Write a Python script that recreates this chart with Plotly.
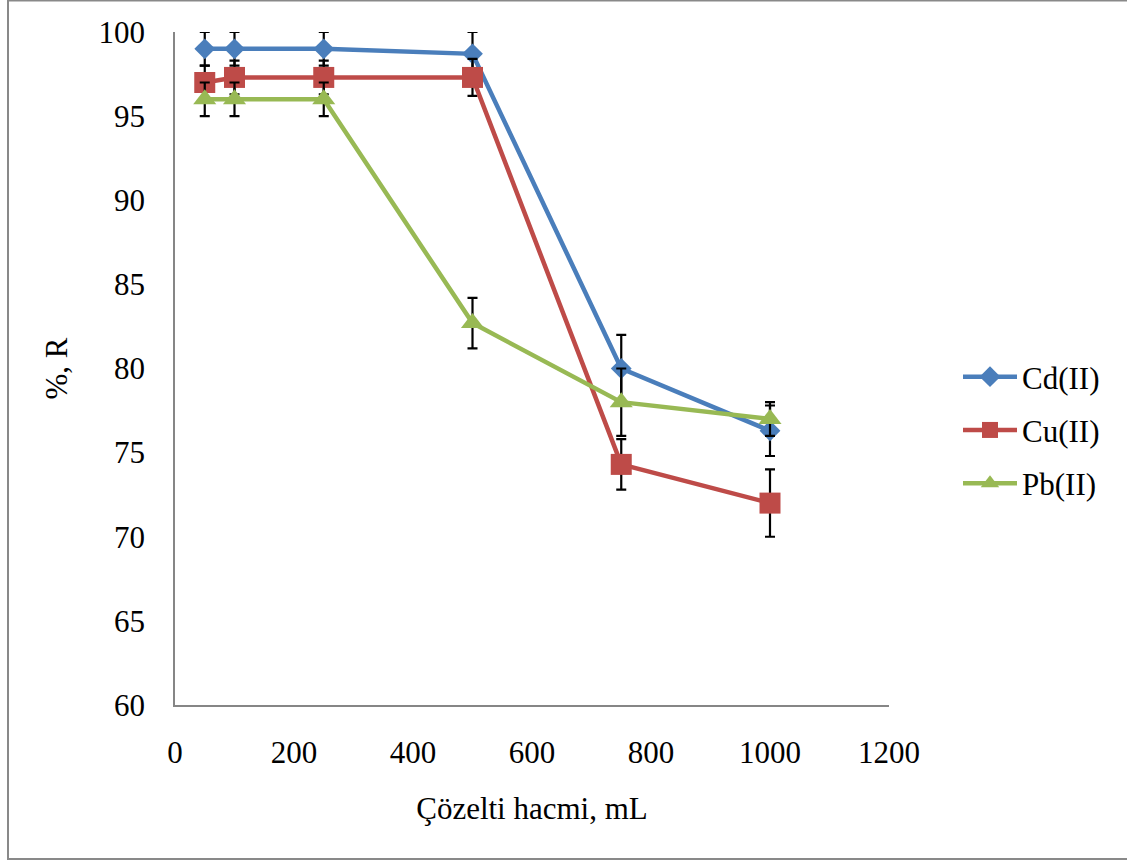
import plotly.graph_objects as go

volume = [50, 100, 250, 500, 750, 1000]
cd = [99.0, 99.0, 99.0, 98.7, 80.0, 76.3]
cd_err = [1.0, 1.0, 1.0, 1.3, 2.0, 1.5]
cu = [97.0, 97.3, 97.3, 97.3, 74.3, 72.0]
cu_err = [1.0, 1.0, 1.0, 1.1, 1.5, 2.0]
pb = [96.0, 96.0, 96.0, 82.7, 78.0, 77.0]
pb_err = [1.0, 1.0, 1.0, 1.5, 2.0, 1.0]

series = [
    ("Cd(II)", cd, cd_err, "#4A7EBB", "diamond", 16),
    ("Cu(II)", cu, cu_err, "#BE4B48", "square", 21),
    ("Pb(II)", pb, pb_err, "#98B954", "triangle-up", 20),
]

FONT = "'Times New Roman', 'Liberation Serif', serif"
FS = 31
W, H = 1127, 861
L, R, T, B = 175, 889, 32, 705

fig = go.Figure()
for i, (name, ys, err, col, sym, sz) in enumerate(series):
    fig.add_trace(go.Scatter(
        x=volume, y=ys, name=name, mode="lines+markers",
        legendgroup=f"g{i}",
        line=dict(color=col, width=4.5),
        marker=dict(symbol=sym, size=sz, color=col, line=dict(width=0)),
        error_y=dict(type="data", array=err, visible=True,
                     color="black", thickness=2.2, width=5),
    ))

def px_x(p):
    return (p - L) / (R - L)

def px_y(p):
    return (B - p) / (B - T)

fig.add_shape(type="rect", xref="paper", yref="paper",
              x0=px_x(8), x1=px_x(1135), y0=px_y(859), y1=px_y(0.5),
              line=dict(color="#898989", width=2), fillcolor="rgba(0,0,0,0)",
              layer="below")

fig.update_layout(
    width=W, height=H,
    margin=dict(l=L, r=W - R, t=T, b=H - B, pad=0),
    paper_bgcolor="white", plot_bgcolor="white",
    font=dict(family=FONT, size=FS, color="black"),
    showlegend=True,
    legend=dict(x=px_x(958), y=px_y(350), xanchor="left", yanchor="top",
                font=dict(family=FONT, size=FS, color="black"),
                tracegroupgap=10, bgcolor="rgba(0,0,0,0)", itemwidth=54),
    xaxis=dict(range=[0, 1200], tickvals=[0, 200, 400, 600, 800, 1000, 1200],
               showgrid=False, zeroline=False, showline=True,
               linecolor="#868686", linewidth=1.5, ticks="",
               ticklabelstandoff=19,
               title=dict(text="Çözelti hacmi, mL", standoff=28,
                          font=dict(family=FONT, size=FS))),
    yaxis=dict(range=[60, 100], tickvals=[60, 65, 70, 75, 80, 85, 90, 95, 100],
               showgrid=False, zeroline=False, showline=True,
               linecolor="#868686", linewidth=1.5, ticks="",
               ticklabelstandoff=22,
               title=dict(text="%, R", standoff=22,
                          font=dict(family=FONT, size=FS))),
)

fig.write_html("out.html", config={"displayModeBar": False},
               post_script="document.body.style.margin='0';")
